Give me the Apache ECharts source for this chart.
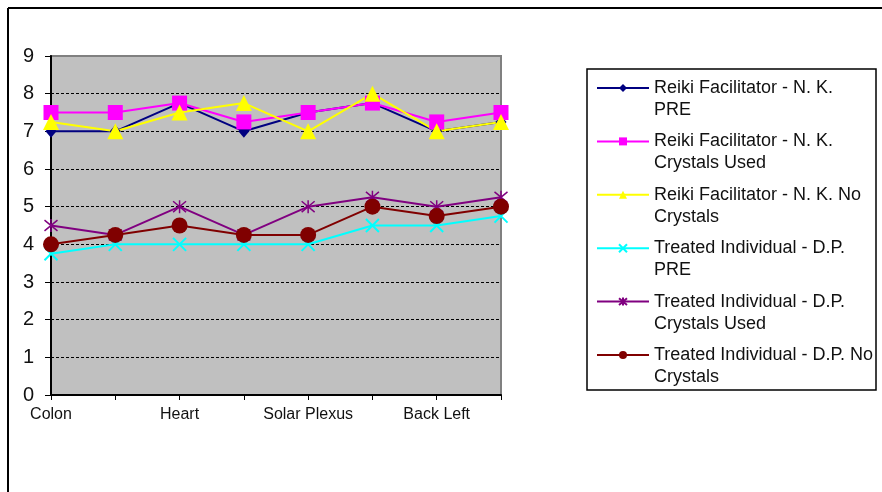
<!DOCTYPE html>
<html>
<head>
<meta charset="utf-8">
<script src="https://cdn.jsdelivr.net/npm/echarts@6/dist/echarts.min.js"></script>
<style>html,body{margin:0;padding:0;background:#fff;}#c{width:882px;height:492px;}</style>
</head>
<body>
<div id="c"></div>
<script>
var categories = ['Colon', 'Liver', 'Heart', 'Spleen', 'Solar Plexus', 'Throat', 'Back Left', 'Back Right'];
var seriesNames = [
  'Reiki Facilitator - N. K.\nPRE',
  'Reiki Facilitator - N. K.\nCrystals Used',
  'Reiki Facilitator - N. K. No\nCrystals',
  'Treated Individual - D.P.\nPRE',
  'Treated Individual - D.P.\nCrystals Used',
  'Treated Individual - D.P. No\nCrystals'
];
var reikiPre      = [7, 7, 7.75, 7, 7.5, 7.75, 7, 7.25];
var reikiCrystals = [7.5, 7.5, 7.75, 7.25, 7.5, 7.75, 7.25, 7.5];
var reikiNo       = [7.25, 7, 7.5, 7.75, 7, 8, 7, 7.25];
var treatedPre      = [3.75, 4, 4, 4, 4, 4.5, 4.5, 4.75];
var treatedCrystals = [4.5, 4.25, 5, 4.25, 5, 5.25, 5, 5.25];
var treatedNo       = [4, 4.25, 4.5, 4.25, 4.25, 5, 4.75, 5];
var yTicks = [0, 1, 2, 3, 4, 5, 6, 7, 8, 9];

var colors = ['#000080', '#ff00ff', '#ffff00', '#00ffff', '#800080', '#800000'];
var dataSets = [reikiPre, reikiCrystals, reikiNo, treatedPre, treatedCrystals, treatedNo];
var symbols = [
  {s: 'diamond', size: [11, 13], bw: 0},
  {s: 'rect', size: 15, bw: 0},
  {s: 'triangle', size: 16, bw: 0},
  {s: 'path://M0,0L10,10M10,0L0,10', size: 13, bw: 2},
  {s: 'path://M0,0L10,10M10,0L0,10M5,-1L5,11', size: 13, bw: 1.5},
  {s: 'circle', size: 16, bw: 0}
];

var series = dataSets.map(function (d, i) {
  return {
    name: seriesNames[i],
    type: 'line',
    data: d,
    symbol: symbols[i].s,
    symbolSize: symbols[i].size,
    showAllSymbol: true,
    lineStyle: {color: colors[i], width: 2},
    itemStyle: {color: colors[i], borderColor: colors[i], borderWidth: symbols[i].bw},
    emphasis: {disabled: true},
    animation: false
  };
});

var splitColors = yTicks.map(function (t, i) { return i === yTicks.length - 1 ? 'rgba(0,0,0,0)' : '#000'; });

var chart = echarts.init(document.getElementById('c'), null, {renderer: 'canvas'});
chart.setOption({
  animation: false,
  backgroundColor: '#fff',
  color: colors,
  grid: {
    left: 51, right: 381, top: 56, bottom: 97,
    show: true, backgroundColor: '#c0c0c0', borderColor: '#808080', borderWidth: 2
  },
  xAxis: {
    type: 'category',
    data: categories,
    boundaryGap: false,
    axisLine: {lineStyle: {color: '#000', width: 2}},
    axisTick: {show: true, interval: 0, length: 5, lineStyle: {color: '#000', width: 1}},
    axisLabel: {interval: 1, margin: 12, fontFamily: 'Liberation Sans', fontSize: 16, color: '#111'},
    splitLine: {show: false}
  },
  yAxis: {
    type: 'value',
    min: 0, max: 9, interval: 1,
    axisLine: {show: true, lineStyle: {color: '#000', width: 2}},
    axisTick: {show: true, length: 6, lineStyle: {color: '#000', width: 1}},
    axisLabel: {margin: 17, fontFamily: 'Liberation Sans', fontSize: 20, color: '#111'},
    splitLine: {show: true, lineStyle: {color: splitColors, type: [3, 2], width: 1}}
  },
  legend: {
    orient: 'vertical',
    left: 596,
    top: 55,
    padding: 0,
    itemWidth: 52,
    itemHeight: 10,
    itemGap: -12.6,
    selectedMode: false,
    formatter: function (name) { return '\n' + name; },
    textStyle: {fontFamily: 'Liberation Sans', fontSize: 18, color: '#111', lineHeight: 22},
    data: seriesNames
  },
  graphic: [
    {type: 'line', shape: {x1: 8, y1: 8, x2: 882, y2: 8}, style: {stroke: '#000', lineWidth: 2}, silent: true},
    {type: 'line', shape: {x1: 8, y1: 8, x2: 8, y2: 492}, style: {stroke: '#000', lineWidth: 2}, silent: true},
    {type: 'rect', shape: {x: 587, y: 69, width: 289, height: 321}, style: {fill: 'none', stroke: '#000', lineWidth: 1.5}, silent: true, z: -1}
  ],
  series: series
});
</script>
</body>
</html>
